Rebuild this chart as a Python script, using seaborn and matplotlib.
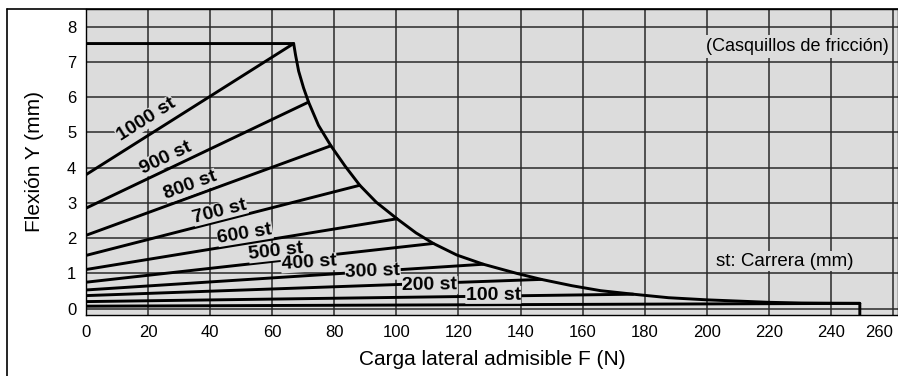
import numpy as np
import pandas as pd
import matplotlib
matplotlib.use("Agg")
import matplotlib.pyplot as plt
import seaborn as sns

# ---- data ----
strokes = ["1000 st", "900 st", "800 st", "700 st", "600 st",
           "500 st", "400 st", "300 st", "200 st", "100 st"]
start_y = [3.80, 2.85, 2.08, 1.51, 1.11, 0.75, 0.53, 0.37, 0.20, 0.07]
end_F = [66.9, 71.7, 78.9, 88.2, 100.2, 111.9, 128.0, 146.7, 176.3, 249.3]
end_y = [7.52, 5.86, 4.62, 3.50, 2.55, 1.85, 1.26, 0.83, 0.41, 0.15]

envelope_F = [0, 66.9, 67.5, 68.5, 70.1, 71.7, 74.9, 78.9, 83.5, 88.2, 93.5,
              100.2, 106.3, 111.9, 119.5, 128.0, 138.8, 146.7, 156.6, 165.8,
              176.3, 187.7, 200.0, 220.0, 230.5, 249.3, 249.3]
envelope_y = [7.52, 7.52, 7.20, 6.74, 6.26, 5.86, 5.20, 4.62, 4.04, 3.50, 3.02,
              2.55, 2.15, 1.85, 1.52, 1.26, 1.00, 0.83, 0.65, 0.51,
              0.41, 0.31, 0.25, 0.18, 0.16, 0.15, -0.30]

x_ticks = [0, 20, 40, 60, 80, 100, 120, 140, 160, 180, 200, 220, 240, 260]
y_ticks = [0, 1, 2, 3, 4, 5, 6, 7, 8]

# label placement (layout only)
label_x = [19.4, 25.8, 33.7, 43.1, 51.2, 61.3, 71.8, 92.4, 110.8, 131.2]
label_y = [5.36, 4.28, 3.49, 2.76, 2.12, 1.62, 1.30, 1.05, 0.66, 0.39]

# ---- tables ----
rows = []
for s, y0, fx, fy in zip(strokes, start_y, end_F, end_y):
    rows.append({"stroke": s, "F": 0.0, "Y": y0})
    rows.append({"stroke": s, "F": fx, "Y": fy})
df_lines = pd.DataFrame(rows)
df_env = pd.DataFrame({"F": envelope_F, "Y": envelope_y})

sns.set_style("white")
plt.rcParams["font.family"] = ["Liberation Sans", "DejaVu Sans"]

W, H = 898, 376
fig = plt.figure(figsize=(W / 100, H / 100), dpi=100)
left, right, top, bottom = 86, 898, 9, 315
ax = fig.add_axes([left / W, 1 - bottom / H, (right - left) / W, (bottom - top) / H])
ax.set_facecolor("#dcdcdc")

ax.set_xlim(0, 261.6)
ax.set_ylim(-0.18, 8.5)
ax.set_xticks(x_ticks)
ax.set_yticks(y_ticks)
ax.grid(True, color="#2a2a2a", lw=1.1, zorder=1)
ax.set_axisbelow(True)
ax.tick_params(length=0, labelsize=12, pad=7, colors="black")
xtl = ax.get_xticklabels()
xtl[-1].set_horizontalalignment("right")

sns.lineplot(data=df_lines, x="F", y="Y", units="stroke", estimator=None,
             color="black", lw=2.1, ax=ax, zorder=3, legend=False)
sns.lineplot(data=df_env, x="F", y="Y", sort=False, estimator=None,
             color="black", lw=2.1, ax=ax, zorder=3, legend=False)

# stroke labels, rotated along their lines
for s, y0, fx, fy, lx, ly in zip(strokes, start_y, end_F, end_y, label_x, label_y):
    p0 = ax.transData.transform((0, y0))
    p1 = ax.transData.transform((fx, fy))
    ang = np.degrees(np.arctan2(p1[1] - p0[1], p1[0] - p0[0]))
    ax.text(lx, ly, s, fontsize=14, fontweight="bold", rotation=ang,
            rotation_mode="anchor", ha="center", va="center", zorder=4,
            color="black",
            bbox=dict(facecolor="#dcdcdc", edgecolor="none", pad=0.3))

ax.text(229.2, 7.44, "(Casquillos de fricción)", fontsize=13, ha="center",
        va="center", zorder=2, color="black",
        bbox=dict(facecolor="#dcdcdc", edgecolor="none", pad=2))
ax.text(225, 1.35, "st: Carrera (mm)", fontsize=13.5, ha="center",
        va="center", zorder=2, color="black",
        bbox=dict(facecolor="#dcdcdc", edgecolor="none", pad=1))

ax.set_xlabel("Carga lateral admisible F (N)", fontsize=15, color="black")
ax.set_ylabel("Flexión Y (mm)", fontsize=15, color="black")
ax.xaxis.set_label_coords(0.5, (bottom - 350) / (bottom - top))
ax.yaxis.set_label_coords((44 - left) / (right - left), 0.5)

for sp in ax.spines.values():
    sp.set_color("black")
    sp.set_linewidth(1.0)

# outer figure frame
fig.add_artist(plt.Line2D([7 / W, 7 / W], [0, 1 - top / H],
                          transform=fig.transFigure, color="black", lw=1.2))
fig.add_artist(plt.Line2D([7 / W, 1], [1 - top / H, 1 - top / H],
                          transform=fig.transFigure, color="black", lw=1.2))

fig.savefig("out.png", dpi=100)
